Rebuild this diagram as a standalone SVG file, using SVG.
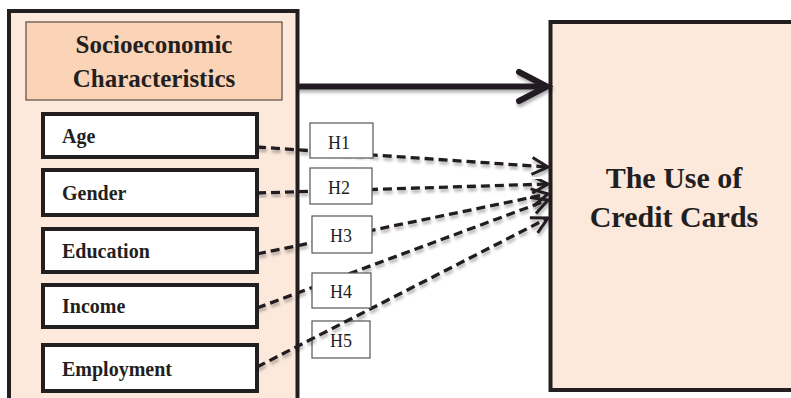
<svg xmlns="http://www.w3.org/2000/svg" width="791" height="398" viewBox="0 0 791 398">
  <style>
    .outer { fill: #fde9dc; stroke: #231f20; stroke-width: 4; }
    .header { fill: #fbd4b8; stroke: #5a4a42; stroke-width: 1.2; }
    .item { fill: #ffffff; stroke: #231f20; stroke-width: 4; }
    .hbox { fill: #ffffff; stroke: #555555; stroke-width: 1.2; }
    .t { font-family: "Liberation Serif", "Times New Roman", serif; fill: #231f20; }
    .b { font-weight: bold; }
    .dash { fill: none; stroke: #231f20; stroke-width: 3.3; stroke-dasharray: 9 5; marker-end: url(#chev); filter: url(#sh); }
  </style>
  <defs>
    <filter id="sh" x="-10%" y="-50%" width="120%" height="200%">
      <feDropShadow dx="1" dy="3" stdDeviation="1.5" flood-color="#000000" flood-opacity="0.3"/>
    </filter>
    <marker id="chev" markerUnits="userSpaceOnUse" markerWidth="22" markerHeight="22" viewBox="-18 -11 22 22" refX="0" refY="0" orient="auto">
      <path d="M-16,-8.5 L0,0 L-16,8.5" fill="none" stroke="#231f20" stroke-width="3" stroke-dasharray="none"/>
    </marker>
  </defs>

  <g id="socioeconomic">
    <rect class="outer" x="9" y="11" width="288.5" height="400"/>
    <rect class="header" x="26" y="22" width="256" height="78"/>
    <text class="t b" x="154" y="53" font-size="25" text-anchor="middle">Socioeconomic</text>
    <text class="t b" x="154" y="87" font-size="25" text-anchor="middle">Characteristics</text>
  </g>

  <g id="age">
    <rect class="item" x="43" y="114" width="214" height="43"/>
    <text class="t b" x="62" y="143" font-size="20">Age</text>
  </g>
  <g id="gender">
    <rect class="item" x="43" y="170" width="214" height="45"/>
    <text class="t b" x="62" y="200" font-size="20">Gender</text>
  </g>
  <g id="education">
    <rect class="item" x="43" y="229" width="214" height="43"/>
    <text class="t b" x="62" y="258" font-size="20">Education</text>
  </g>
  <g id="income">
    <rect class="item" x="43" y="285" width="214" height="42"/>
    <text class="t b" x="62" y="313" font-size="20">Income</text>
  </g>
  <g id="employment">
    <rect class="item" x="43" y="345" width="214" height="46"/>
    <text class="t b" x="62" y="376" font-size="20">Employment</text>
  </g>

  <g id="credit-cards">
    <rect class="outer" x="550.5" y="22" width="260" height="368"/>
    <text class="t b" x="674" y="188" font-size="30" text-anchor="middle">The Use of</text>
    <text class="t b" x="674" y="227" font-size="30" text-anchor="middle">Credit Cards</text>
  </g>

  <g id="h5">
    <rect class="hbox" x="312" y="321" width="58" height="37"/>
    <text class="t" x="341" y="347" font-size="18" text-anchor="middle">H5</text>
  </g>

  <g id="connectors">
    <g filter="url(#sh)">
      <line x1="297" y1="86.5" x2="546" y2="86.5" stroke="#231f20" stroke-width="6"/>
      <path d="M519,72 L547,86.5 L519,101" fill="none" stroke="#231f20" stroke-width="6" stroke-linecap="round" stroke-linejoin="miter"/>
    </g>
    <line class="dash" x1="257" y1="147" x2="548" y2="167"/>
    <line class="dash" x1="257" y1="193" x2="548" y2="184"/>
    <line class="dash" x1="257" y1="254" x2="548" y2="194"/>
    <line class="dash" x1="257" y1="308" x2="548" y2="200"/>
    <line class="dash" x1="257" y1="367" x2="548" y2="218"/>
  </g>

  <g id="h1">
    <rect class="hbox" x="310" y="123" width="63" height="35"/>
    <text class="t" x="339" y="149" font-size="18" text-anchor="middle">H1</text>
  </g>
  <g id="h2">
    <rect class="hbox" x="310" y="168" width="62" height="36"/>
    <text class="t" x="339" y="194" font-size="18" text-anchor="middle">H2</text>
  </g>
  <g id="h3">
    <rect class="hbox" x="312" y="216" width="60" height="37"/>
    <text class="t" x="341" y="242" font-size="18" text-anchor="middle">H3</text>
  </g>
  <g id="h4">
    <rect class="hbox" x="312" y="273" width="59" height="35"/>
    <text class="t" x="341" y="298" font-size="18" text-anchor="middle">H4</text>
  </g>
</svg>
